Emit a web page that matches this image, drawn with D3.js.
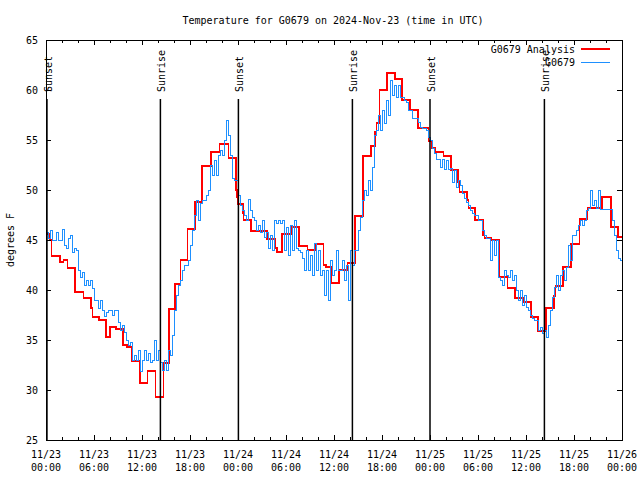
<!DOCTYPE html>
<html><head><meta charset="utf-8">
<script src="https://cdn.jsdelivr.net/npm/d3@7/dist/d3.min.js"></script>
<style>
body{margin:0;background:#fff}
text{font-family:"DejaVu Sans Mono",monospace;font-size:10px;fill:#000}
</style>
</head><body><svg id="chart" width="640" height="480"></svg>
<script>
// ---------- data ----------
const startUtc = Date.UTC(2024, 10, 23, 0, 0);
const titleText = "Temperature for G0679 on 2024-Nov-23 (time in UTC)";
const yLabel = "degrees F";
const seriesNames = ["G0679 Analysis", "G0679"];

// Analysis (hourly-ish step) – hours after start, temperature °F
const analysisHours = [0,0.5,0.7,1.75,2.2,2.7,3.6,4.7,5.6,5.8,6.6,7.5,8.0,8.75,9.6,10.1,10.7,11.75,12.7,13.7,14.7,15.4,16.1,16.8,17.7,18.6,19.5,20.6,21.7,22.8,23.75,23.85,24.0,24.6,24.7,25.6,27.6,28.6,28.9,29.5,30.6,31.6,32.7,33.75,34.7,35.0,35.7,36.6,37.7,38.6,39.6,40.6,41.1,41.3,41.7,42.6,43.6,44.5,45.5,46.5,47.8,48.2,48.6,49.7,50.6,51.5,51.7,52.6,52.8,53.6,54.6,54.8,55.6,56.6,57.7,58.6,59.7,60.6,61.5,62.5,63.5,63.7,64.6,65.6,66.7,67.7,69.5,70.6,71.5,72];
const analysisTemps = [45.6,45.0,43.4,42.8,43.0,42.2,39.8,39.2,38.2,37.3,37.0,35.3,36.3,36.1,34.5,34.3,32.9,30.7,31.9,29.3,32.7,38.1,40.6,43.0,46.1,48.8,52.4,53.8,54.6,53.2,50.0,49.3,48.6,47.7,47.0,45.9,45.1,44.2,43.8,45.6,46.3,44.4,44.0,44.6,42.5,42.3,40.7,42.0,42.7,47.4,53.4,54.4,55.8,56.7,60.0,61.7,61.1,59.0,58.0,56.2,54.9,54.2,53.8,53.4,52.0,50.8,49.8,49.0,48.2,47.0,45.5,45.2,45.0,41.3,40.2,39.2,38.8,37.3,35.9,38.2,39.4,40.4,42.3,44.6,47.1,48.2,49.3,46.3,45.3,45.3];

// Observations, one value every 15 minutes from start
const obsStepMinutes = 15;
const obsTemps = [
45.8,45.2,46.0,45.0, 45.0,45.8,45.0,45.0, 46.1,44.5,44.2,45.2, 45.5,43.8,44.2,44.0,
42.0,41.3,41.8,40.5, 41.0,40.5,41.0,40.2, 39.0,39.0,38.2,39.0, 38.0,37.4,37.8,38.0,
38.0,37.5,38.0,38.0, 36.8,36.0,36.5,35.8, 35.0,34.5,34.8,33.0, 33.5,33.0,34.0,31.9,
33.0,34.0,33.0,33.7, 32.8,33.0,35.0,33.0, 34.0,32.8,32.0,33.0, 32.0,34.0,33.5,35.5,
38.0,39.5,40.5,41.0, 42.0,42.5,42.5,43.0, 44.5,46.0,47.5,49.0, 47.0,48.7,49.0,49.0,
49.5,50.0,52.5,51.5, 53.0,51.5,53.5,54.0, 53.5,55.0,57.0,55.5, 53.5,51.2,51.0,51.0,
49.5,48.5,48.0,47.5, 47.0,49.1,48.0,47.3, 47.0,46.0,46.5,45.8, 47.0,45.3,45.8,44.2,
45.5,44.0,47.0,46.7, 47.0,46.7,47.0,44.0, 46.3,43.5,46.5,44.0, 47.0,44.2,44.0,43.8,
43.2,42.0,44.0,42.0, 43.5,41.5,44.7,42.0, 44.0,41.5,42.0,39.5, 42.0,39.0,43.0,41.5,
42.0,44.0,42.0,42.0, 43.0,41.0,42.5,39.0, 44.0,42.5,44.0,44.0, 46.0,47.3,49.0,50.0,
49.5,51.0,50.0,52.3, 55.5,56.0,57.5,56.0, 58.0,56.7,59.0,57.5, 61.0,59.5,60.5,59.3,
60.5,59.3,59.3,59.0, 58.8,58.0,58.0,57.2, 57.2,57.2,56.8,56.3, 56.2,56.2,56.0,55.3,
55.0,54.2,53.7,53.1, 53.1,52.3,53.1,52.1, 53.0,52.1,52.2,50.8, 52.0,50.3,51.0,50.5,
49.7,49.2,48.8,48.5, 48.0,47.7,47.5,47.5, 47.0,47.0,46.0,45.5, 45.2,45.2,43.0,45.0,
43.5,45.0,41.3,41.0, 40.5,42.0,41.5,41.3, 42.0,41.0,41.5,40.0, 39.0,40.0,38.5,39.5,
38.3,38.0,37.5,37.2, 37.0,37.0,36.0,36.3, 35.7,36.0,35.3,36.5, 38.0,39.3,40.3,41.5,
40.0,41.5,42.0,41.0, 42.3,44.5,43.0,45.5, 45.5,46.0,46.5,47.0, 46.5,47.0,48.0,48.2,
50.0,48.5,49.0,48.2, 50.0,48.1,48.1,48.1, 48.1,48.1,48.1,47.0, 45.5,44.0,43.2,43.0,
43.0];

const sunEventLabels = ["Sunset","Sunrise","Sunset","Sunrise","Sunset","Sunrise"];
const sunEventHours  = [0.12, 14.3, 24.05, 38.3, 48.0, 62.3];

const yTicks = [25,30,35,40,45,50,55,60,65];
const xMajorHours = [0,6,12,18,24,30,36,42,48,54,60,66,72];
const xMinorHours = d3.range(0, 73, 2).filter(h => h % 6 !== 0);
const xTickDates = ["11/23","11/23","11/23","11/23","11/24","11/24","11/24","11/24","11/25","11/25","11/25","11/25","11/26"];
const xTickTimes = ["00:00","06:00","12:00","18:00","00:00","06:00","12:00","18:00","00:00","06:00","12:00","18:00","00:00"];

// ---------- drawing ----------
(function () {
const H = 3600 * 1000;
const toDate = h => new Date(startUtc + h * H);
const L = 46, R = 622, T = 40, B = 440;
const svg = d3.select("#chart");

const x = d3.scaleUtc().domain([toDate(0), toDate(72)]).range([L, R]);
const y = d3.scaleLinear().domain([25, 65]).range([B, T]);

const analysis = analysisHours.map((h, i) => ({t: toDate(h), v: analysisTemps[i]}));
const obs = obsTemps.map((v, i) => ({t: new Date(startUtc + i * obsStepMinutes * 60000), v}));

const line = d3.line().x(d => x(d.t)).y(d => y(d.v)).curve(d3.curveStepAfter);

const colors = ["#ff0000", "#1e90ff"];

svg.append("path").datum(analysis).attr("d", line)
  .attr("fill", "none").attr("stroke", colors[0]).attr("stroke-width", 1.6)
  .attr("shape-rendering", "crispEdges");
svg.append("path").datum(obs).attr("d", line)
  .attr("fill", "none").attr("stroke", colors[1]).attr("stroke-width", 1)
  .attr("shape-rendering", "crispEdges");

// sun events
const sun = svg.append("g");
sunEventHours.forEach((h, i) => {
  const sx = x(toDate(h));
  sun.append("line").attr("x1", sx).attr("x2", sx).attr("y1", 99).attr("y2", B)
    .attr("stroke", "#000").attr("stroke-width", 1.5);
  sun.append("text").text(sunEventLabels[i])
    .attr("transform", `translate(${sx + 1.5},92) rotate(-90)`)
    .attr("dominant-baseline", "central").attr("text-anchor", "start");
});

// axes (ticks inward)
const ax = svg.append("g").attr("shape-rendering", "crispEdges");
const axBottom = d3.axisBottom(x).tickValues(xMajorHours.map(toDate)).tickSize(-5).tickFormat("");
const axBottomMinor = d3.axisBottom(x).tickValues(xMinorHours.map(toDate)).tickSize(-3).tickFormat("");
const axTop = d3.axisTop(x).tickValues(xMajorHours.map(toDate)).tickSize(-5).tickFormat("");
const axTopMinor = d3.axisTop(x).tickValues(xMinorHours.map(toDate)).tickSize(-3).tickFormat("");
const axLeft = d3.axisLeft(y).tickValues(yTicks).tickSize(-5).tickFormat("");
const axRight = d3.axisRight(y).tickValues(yTicks).tickSize(-5).tickFormat("");

[[axBottom, `translate(0,${B})`], [axBottomMinor, `translate(0,${B})`],
 [axTop, `translate(0,${T})`], [axTopMinor, `translate(0,${T})`],
 [axLeft, `translate(${L},0)`], [axRight, `translate(${R},0)`]].forEach(([a, tr]) => {
  const g = ax.append("g").attr("transform", tr).call(a);
  g.select(".domain").remove();
  g.selectAll("line").attr("stroke", "#000");
});
ax.append("rect").attr("x", L).attr("y", T).attr("width", R - L).attr("height", B - T)
  .attr("fill", "none").attr("stroke", "#000").attr("stroke-width", 1);

// tick labels
yTicks.forEach(v => {
  svg.append("text").text(v).attr("x", L - 8).attr("y", y(v))
    .attr("text-anchor", "end").attr("dominant-baseline", "central");
});
xMajorHours.forEach((h, i) => {
  const tx = x(toDate(h));
  svg.append("text").text(xTickDates[i]).attr("x", tx).attr("y", 454)
    .attr("text-anchor", "middle").attr("dominant-baseline", "central");
  svg.append("text").text(xTickTimes[i]).attr("x", tx).attr("y", 467)
    .attr("text-anchor", "middle").attr("dominant-baseline", "central");
});

// title and axis label
svg.append("text").text(titleText).attr("x", 333).attr("y", 20)
  .attr("text-anchor", "middle").attr("dominant-baseline", "central");
svg.append("text").text(yLabel).attr("transform", "translate(10,240) rotate(-90)")
  .attr("text-anchor", "middle").attr("dominant-baseline", "central");

// legend
seriesNames.forEach((name, i) => {
  const ly = 49 + i * 13;
  svg.append("text").text(name).attr("x", 575).attr("y", ly)
    .attr("text-anchor", "end").attr("dominant-baseline", "central");
  svg.append("line").attr("x1", 581).attr("x2", 610).attr("y1", ly).attr("y2", ly)
    .attr("stroke", colors[i]).attr("stroke-width", i === 0 ? 1.6 : 1)
    .attr("shape-rendering", "crispEdges");
});
})();
</script>
</body></html>
